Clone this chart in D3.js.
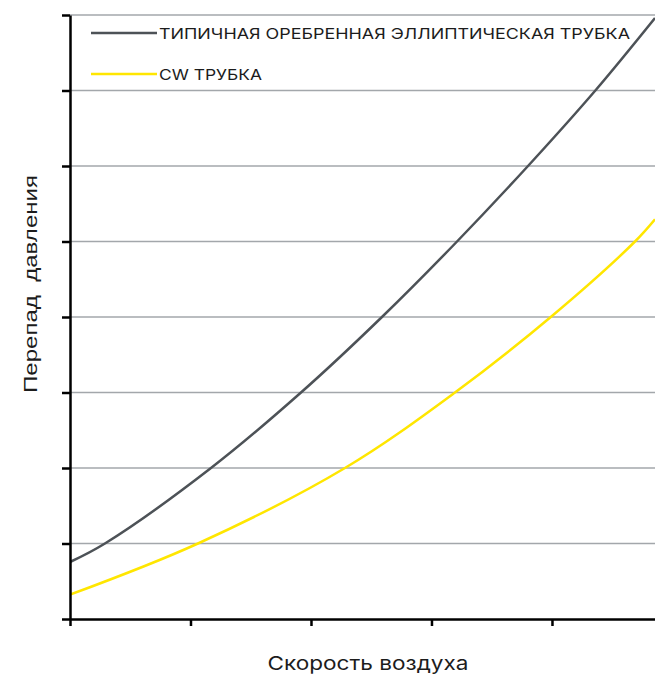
<!DOCTYPE html>
<html><head><meta charset="utf-8">
<script src="https://cdn.jsdelivr.net/npm/d3@7"></script>
<style>body{margin:0;background:#fff}svg{display:block}</style>
</head><body>
<svg id="c" width="655" height="675"></svg>
<script>
const seriesNames = ["ТИПИЧНАЯ ОРЕБРЕННАЯ ЭЛЛИПТИЧЕСКАЯ ТРУБКА", "CW ТРУБКА"];
const seriesColors = ["#4d5257", "#ffe600"];
const typicalX = [0, 0.29, 1.17, 1.917, 2.589, 3.212, 3.801, 4.36, 4.855];
const typicalY = [0.755, 1, 2, 3, 4, 5, 6, 7, 7.96];
const cwX = [0, 1.062, 2.282, 3.195, 3.99, 4.689, 4.855];
const cwY = [0.322, 1, 2, 3, 4, 5, 5.294];
const xTicks = [0, 1, 2, 3, 4];
const yTicks = [0, 1, 2, 3, 4, 5, 6, 7, 8];
const xTitle = "Скорость воздуха";
const yTitle = "Перепад  давления";

const svg = d3.select("#c");
const m = {l:70, t:15, r:0, b:56};
const W = 655, H = 675;
const x = d3.scaleLinear().domain([0, 4.855]).range([m.l, W - m.r]);
const y = d3.scaleLinear().domain([0, 8]).range([H - m.b, m.t]);

// grid
svg.append("g").selectAll("line").data(yTicks.slice(1)).join("line")
  .attr("x1", x(0)).attr("x2", W).attr("y1", d=>y(d)).attr("y2", d=>y(d))
  .attr("stroke", "#a3a7ab").attr("stroke-width", 1.3);

const line = d3.line().x(d=>x(d[0])).y(d=>y(d[1])).curve(d3.curveCatmullRom.alpha(0.5));
const series = [d3.zip(typicalX, typicalY), d3.zip(cwX, cwY)];
svg.append("clipPath").attr("id","cp").append("rect")
  .attr("x", x(0)).attr("y", 0).attr("width", W - x(0)).attr("height", y(0));
svg.append("g").attr("clip-path","url(#cp)").selectAll("path").data(series).join("path")
  .attr("d", line).attr("fill","none")
  .attr("stroke", (d,i)=>seriesColors[i]).attr("stroke-width", 2.5);

// axes
const xa = svg.append("g").attr("transform", `translate(0,${y(0)})`)
  .call(d3.axisBottom(x).tickValues(xTicks).tickSize(7).tickSizeOuter(0).tickFormat(""));
const ya = svg.append("g").attr("transform", `translate(${x(0)},0)`)
  .call(d3.axisLeft(y).tickValues(yTicks).tickSize(8).tickSizeOuter(0).tickFormat(""));
[xa, ya].forEach(g=>{
  g.select(".domain").attr("stroke","#000").attr("stroke-width",2.5);
  g.selectAll(".tick line").attr("stroke","#000").attr("stroke-width",2.5);
});

// legend
const lg = svg.append("g");
const legY = [33, 74];
const legLen = [471, 103];
seriesNames.forEach((n,i)=>{
  lg.append("line").attr("x1",91).attr("x2",157).attr("y1",legY[i]).attr("y2",legY[i])
    .attr("stroke", seriesColors[i]).attr("stroke-width", 2.5);
  lg.append("text").attr("x",159).attr("y",legY[i]+5.5).text(n)
    .attr("font-family","Inter, 'Noto Sans', sans-serif").attr("font-size",15)
    .attr("fill","#1c1c1c").attr("textLength", legLen[i]).attr("lengthAdjust","spacingAndGlyphs");
});

// titles
svg.append("text").attr("x", 368).attr("y", 670).attr("text-anchor","middle")
  .attr("font-family","Inter, 'Noto Sans', sans-serif").attr("font-size",19).attr("fill","#1c1c1c")
  .attr("textLength", 201).attr("lengthAdjust","spacingAndGlyphs").text(xTitle);
svg.append("text").attr("transform","translate(37,284) rotate(-90)").attr("text-anchor","middle")
  .attr("font-family","'Liberation Sans', Arial, sans-serif").attr("font-size",19).attr("fill","#1c1c1c")
  .attr("xml:space","preserve").style("white-space","pre")
  .attr("textLength", 218).attr("lengthAdjust","spacingAndGlyphs").text(yTitle);
</script>
</body></html>
